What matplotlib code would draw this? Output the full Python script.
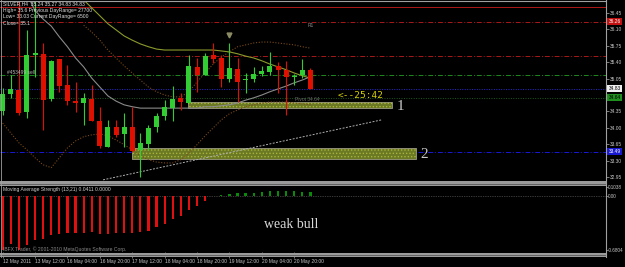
import matplotlib
matplotlib.use("Agg")
import matplotlib.pyplot as plt
from matplotlib.patches import Rectangle
from matplotlib.lines import Line2D
import numpy as np

plt.rcParams['font.family'] = ['Liberation Sans', 'DejaVu Sans']
plt.rcParams['hatch.linewidth'] = 0.6

nan = np.nan

# H4 candles, SILVER 12-20 May 2011
opens = [34.36, 34.72, 34.81, 34.34, 35.55, 35.58, 34.62, 35.47, 34.92, 34.57,
         34.53, 34.62, 34.15, 33.59, 34.02, 33.87, 34.02, 33.53, 33.66, 34.02,
         34.25, 34.42, 34.64, 34.53, 35.30, 35.13, 35.55, 35.49, 35.04, 35.26,
         35.02, 35.04, 35.15, 35.19, 35.32, 35.24, 35.09, 35.13, 35.24]
highs = [34.85, 35.13, 36.72, 36.09, 36.72, 35.81, 35.45, 35.47, 35.34, 34.98,
         34.74, 34.92, 34.45, 34.17, 34.17, 34.32, 34.45, 33.89, 34.06, 34.32,
         34.59, 34.89, 34.74, 35.55, 35.49, 35.60, 35.81, 35.55, 35.81, 35.49,
         35.17, 35.30, 35.32, 35.62, 35.41, 35.43, 35.15, 35.47, 35.27]
lows = [34.28, 34.64, 34.28, 34.21, 35.09, 33.96, 34.57, 34.77, 34.49, 34.34,
        34.06, 34.15, 33.57, 33.59, 33.81, 33.59, 33.49, 32.95, 33.53, 33.91,
        34.17, 34.15, 34.38, 34.53, 34.77, 35.13, 35.38, 34.87, 34.98, 34.55,
        34.74, 34.98, 35.11, 35.13, 34.74, 34.28, 34.92, 35.06, 34.83]
closes = [34.72, 34.83, 34.32, 35.55, 35.60, 34.59, 35.43, 34.89, 34.57, 34.53,
          34.64, 34.15, 33.61, 34.02, 33.85, 34.02, 33.51, 33.68, 34.00, 34.25,
          34.45, 34.62, 34.55, 35.32, 35.13, 35.53, 35.47, 35.04, 35.28, 34.98,
          35.04, 35.15, 35.21, 35.32, 35.24, 35.09, 35.11, 35.24, 34.83]

# indicator lines on the price panel
grey_ma = [nan, nan, nan, 36.85, 36.50, 36.32, 36.17, 35.94, 35.73, 35.49,
           35.30, 35.06, 34.87, 34.68, 34.57, 34.49, 34.45, 34.42, 34.42, 34.42,
           34.42, 34.42, 34.42, 34.42, 34.42, 34.45, 34.45, 34.47, 34.49, 34.53,
           34.59, 34.64, 34.70, 34.77, 34.83, 34.89, 34.96, 35.02, 35.09]
olive_ma = [nan, nan, nan, nan, nan, nan, nan, nan, nan, 36.90,
            36.73, 36.56, 36.39, 36.22, 36.09, 35.96, 35.87, 35.79, 35.73, 35.68,
            35.66, 35.66, 35.66, 35.66, 35.66, 35.66, 35.66, 35.64, 35.62, 35.58,
            35.53, 35.49, 35.43, 35.36, 35.30, 35.24, 35.17, 35.11, 35.06]
upper_band = [nan, nan, nan, nan, nan, nan, nan, nan, nan, nan,
              36.19, 36.04, 35.87, 35.66, 35.49, 35.32, 35.17, 35.02, 34.87, 34.77,
              34.70, 34.66, 34.66, 34.77, 34.98, 35.17, 35.36, 35.51, 35.62, 35.73,
              35.77, 35.81, 35.83, 35.83, 35.81, 35.79, 35.77, 35.73, 35.70]
lower_band = [34.10, 33.89, 33.68, 33.53, 33.36, 33.21, 33.15, 33.36, 33.57, 33.72,
              33.81, 33.85, 33.87, 33.83, 33.74, 33.64, 33.53, 33.40, 33.32, 33.27,
              33.25, 33.25, 33.32, 33.46, 33.64, 33.83, 34.00, 34.17, 34.30, 34.38,
              34.45, 34.49, 34.53, 34.55, 34.55, 34.55, 34.53, 34.51, 34.49]

# Moving Average Strength (13,21)
strength = [-0.68, -0.60, -0.68, -0.62, -0.55, -0.54, -0.49, -0.475, -0.465, -0.46,
            -0.465, -0.455, -0.48, -0.48, -0.465, -0.465, -0.465, -0.455, -0.44, -0.395,
            -0.35, -0.29, -0.25, -0.18, -0.125, -0.06, 0.0, 0.006, 0.025, 0.03,
            0.035, 0.037, 0.052, 0.06, 0.062, 0.062, 0.055, 0.05, 0.0411]

# horizontal levels
level_prices = [36.58, 36.26, 35.53, 35.13, 34.83, 34.64, 33.49]
tag_prices = [36.26, 34.83, 34.64, 33.49]

# support zones
zone_start = [22.9, 16.0]
zone_end = [48.1, 51.0]
zone_low = [34.42, 33.34]
zone_high = [34.55, 33.575]
zone_names = ["1", "2"]

trend_x = [12.4, 46.8]
trend_y = [32.89, 34.17]

price_ticks = [32.95, 33.30, 33.65, 34.00, 34.35, 35.05, 35.40, 35.75, 36.10, 36.45]
time_ticks = [0, 4, 8, 12, 16, 20, 24, 28, 32, 36]
time_labels = ["12 May 2011", "13 May 12:00", "16 May 04:00", "16 May 20:00",
               "17 May 12:00", "18 May 04:00", "18 May 20:00", "19 May 12:00",
               "20 May 04:00", "20 May 20:00"]

info_lines = ["SILVER,H4  35.24 35.27 34.83 34.83",
              "High= 35.6 Previous DayRange= 27700",
              "Low= 33.03 Current DayRange= 6500",
              "Close= 35.1"]

W, H = 625, 267
fig = plt.figure(figsize=(6.25, 2.67), dpi=100, facecolor="black")


def fx(px):
    return px / W


def fy(py):
    return 1 - py / H


ax = fig.add_axes([0, fy(181), fx(606), 180 / H])
ax2 = fig.add_axes([0, fy(252), fx(606), 66 / H])
for a in (ax, ax2):
    a.set_facecolor("black")
    for s in a.spines.values():
        s.set_visible(False)
    a.set_xlim(-0.33, 74.5)
ax.set_ylim(32.865, 36.706)
ax2.set_ylim(-0.702, 0.121)

x = np.arange(len(opens))
o, hi, lo, c = (np.array(v) for v in (opens, highs, lows, closes))
up = c >= o
col = np.where(up, "#32cd32", "#e01000")

# levels
lv_styles = ["-", (0, (5, 2, 1, 2)), (0, (5, 2, 1, 2)), (0, (5, 2, 1, 2)),
             (0, (1, 1.5)), (0, (1, 1.5)), (0, (5, 2, 1, 2))]
lv_colors = ["#b01818", "#a81818", "#a81818", "#1f8a1f", "#2a2ad0", "#1d5a1d", "#1818d8"]
for p, ls, cc in zip(level_prices, lv_styles, lv_colors):
    ax.axhline(p, color=cc, ls=ls, lw=0.7, zorder=1)

# zones
for s0, s1, z0, z1, nm in zip(zone_start, zone_end, zone_low, zone_high, zone_names):
    ax.add_patch(Rectangle((s0, z0), s1 - s0, z1 - z0, facecolor="#6b7924",
                           edgecolor="#9c9c84", lw=0.6, zorder=2))
    ax.add_patch(Rectangle((s0, z0), s1 - s0, z1 - z0, fill=False,
                           edgecolor="#a9b43c", lw=0, hatch=".....", zorder=2.1))
    ax.text(s1 + 0.6, (z0 + z1) / 2 - 0.02, nm, color="#c8c8c8", fontsize=11,
            family="Liberation Serif", va="center", ha="left", zorder=5)

ax.text(36.1, 34.55, "Pivot 34.64", color="#6a6a6a", fontsize=3.5, va="bottom", zorder=5)

# indicator lines
ax.plot(x, olive_ma, color="#8c9a2c", lw=0.8, zorder=2.5)
ax.plot(x, grey_ma, color="#8a8a8a", lw=0.8, zorder=2.5)
ax.plot(x, upper_band, color="#7a4a1a", lw=0.8, ls=(0, (1, 1.5)), zorder=2.5)
ax.plot(x, lower_band, color="#7a4a1a", lw=0.8, ls=(0, (1, 1.5)), zorder=2.5)
ax.plot(trend_x, trend_y, color="#b0b0b0", lw=0.7, ls=(0, (2, 1.5)), zorder=2.5)

# candles
ax.vlines(x, lo, hi, colors=col, lw=0.8, zorder=3)
ax.bar(x, np.maximum(np.abs(c - o), 0.022), bottom=np.minimum(o, c), width=0.62,
       color=col, linewidth=0, zorder=4)

ax.plot([28], [35.98], marker="v", color="#8c8c64", ms=3.5, zorder=5)
ax.text(37.7, 36.19, "R1", color="#8a8a8a", fontsize=3.5, va="center", zorder=5)
ax.text(2.3, 35.19, "#453499 sell", color="#b8b8b8", fontsize=3.5, va="center",
        ha="center", zorder=5)
ax.text(44.2, 34.70, "<--25:42", color="#d4d000", fontsize=6.8,
        family="DejaVu Sans Mono", va="center", ha="center", zorder=5)

# price axis
ax.yaxis.tick_right()
ax.set_yticks(price_ticks)
ax.set_yticklabels([f"{t:.2f}" for t in price_ticks])
ax.tick_params(axis="y", color="#b0b0b0", labelcolor="#c8c8c8", labelsize=3.5,
               length=2, width=0.5, pad=1)
ax.set_xticks([])

tag_face = ["#c01010", "#f0f0f0", "#1f8f1f", "#1818d0"]
tag_text = ["white", "black", "black", "white"]
for p, fc, tc in zip(tag_prices, tag_face, tag_text):
    ax.text(1.004, p, f"{p:.2f}", transform=ax.get_yaxis_transform(), fontsize=3.5,
            color=tc, va="center", ha="left", clip_on=False, zorder=10,
            bbox=dict(facecolor=fc, edgecolor="none", pad=0.7))

# indicator panel
scol = np.where(np.array(strength) < 0, "#e01010", "#0a8a0a")
ax2.bar(x, strength, width=0.28, color=scol, linewidth=0, zorder=3)
ax2.axhline(0, color="#707070", lw=0.5, ls=(0, (1, 1.5)), zorder=2)
ax2.yaxis.tick_right()
ax2.set_yticks([0.1038, 0.0, -0.6804])
ax2.set_yticklabels(["0.1038", "0.00", "-0.6804"])
ax2.tick_params(axis="y", color="#b0b0b0", labelcolor="#c8c8c8", labelsize=3.3,
                length=1.2, width=0.5, pad=0.4)
ax2.set_xticks(time_ticks)
ax2.set_xticklabels(time_labels, ha="left")
ax2.tick_params(axis="x", color="#a0a0a0", labelcolor="#c8c8c8", labelsize=3.5,
                length=4.6, width=0.5, pad=0.8)
ax2.text(32.3, -0.353, "weak bull", color="#d8d8d8", fontsize=10,
         family="Liberation Serif", va="center", ha="left")

# frame and separators
for y0, y1 in ((181, 186), (252.5, 256.5)):
    fig.add_artist(Rectangle((0, fy(y1)), fx(606), (y1 - y0) / H, transform=fig.transFigure,
                             facecolor="#9a9a9a", edgecolor="none"))
    fig.add_artist(Line2D([0, fx(606)], [fy((y0 + y1) / 2)] * 2, transform=fig.transFigure,
                          color="#4a4a4a", lw=0.5))
fig.add_artist(Line2D([fx(606)] * 2, [fy(256.5), fy(0)], transform=fig.transFigure,
                      color="#a0a0a0", lw=0.8))
fig.add_artist(Line2D([0, fx(606)], [fy(0.8)] * 2, transform=fig.transFigure,
                      color="#a0a0a0", lw=0.8))
fig.add_artist(Line2D([fx(0.5)] * 2, [fy(256.5), fy(0)], transform=fig.transFigure,
                      color="#a0a0a0", lw=0.6))

for i, t in enumerate(info_lines):
    fig.text(fx(3), fy(4 + 6.4 * i), t, color="#e0e0e0", fontsize=3.6, va="center")
fig.text(fx(3), fy(190), "Moving Average Strength (13,21) 0.0411 0.0000",
         color="#d0d0d0", fontsize=3.6, va="center")
fig.text(fx(3), fy(249.5), "IBFX Trader, \u00a9 2001-2010 MetaQuotes Software Corp.",
         color="#8a8a8a", fontsize=3.6, va="center")

fig.savefig("out.png", dpi=100, facecolor="black")
